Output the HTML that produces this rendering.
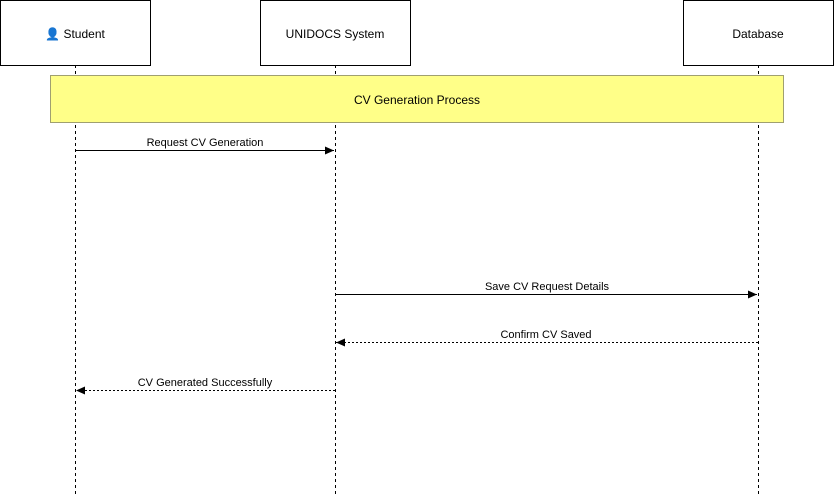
<!DOCTYPE html>
<html><head><meta charset="utf-8"><style>
html,body{margin:0;padding:0;background:#fff;width:834px;height:496px;overflow:hidden}
text{font-family:"Liberation Sans",sans-serif;font-size:12px;fill:#000}
.s{font-size:11px}
</style></head><body>
<svg width="834" height="496" xmlns="http://www.w3.org/2000/svg">
<defs>
<marker id="a" markerWidth="10" markerHeight="8" refX="9" refY="4" orient="auto" markerUnits="userSpaceOnUse"><path d="M0,0 L9,4 L0,8 z" fill="#000"/></marker>
</defs>
<g stroke="#000" stroke-dasharray="3,3" stroke-width="1">
<line x1="75.5" y1="65" x2="75.5" y2="496"/>
<line x1="335.5" y1="65" x2="335.5" y2="496"/>
<line x1="758.5" y1="65" x2="758.5" y2="496"/>
</g>
<rect x="0.5" y="0.5" width="150" height="65" fill="#fff" stroke="#000"/>
<rect x="260.5" y="0.5" width="150" height="65" fill="#fff" stroke="#000"/>
<rect x="683.5" y="0.5" width="150" height="65" fill="#fff" stroke="#000"/>
<text x="75" y="38" text-anchor="middle"><tspan fill="#3a78c9">👤</tspan> Student</text>
<text x="335" y="38" text-anchor="middle">UNIDOCS System</text>
<text x="758" y="38" text-anchor="middle">Database</text>
<rect x="50.5" y="75.5" width="733" height="47" fill="#ffff88" stroke="#a0a070"/>
<text x="417" y="104" text-anchor="middle">CV Generation Process</text>
<line x1="75" y1="150.5" x2="334" y2="150.5" stroke="#000" marker-end="url(#a)"/>
<text class="s" x="205" y="146" text-anchor="middle">Request CV Generation</text>
<line x1="335" y1="294.5" x2="757" y2="294.5" stroke="#000" marker-end="url(#a)"/>
<text class="s" x="547" y="290" text-anchor="middle">Save CV Request Details</text>
<line x1="758" y1="342.5" x2="336" y2="342.5" stroke="#000" stroke-dasharray="2,2" marker-end="url(#a)"/>
<text class="s" x="546" y="338" text-anchor="middle">Confirm CV Saved</text>
<line x1="335" y1="390.5" x2="76" y2="390.5" stroke="#000" stroke-dasharray="2,2" marker-end="url(#a)"/>
<text class="s" x="205" y="386" text-anchor="middle">CV Generated Successfully</text>
</svg>
</body></html>
